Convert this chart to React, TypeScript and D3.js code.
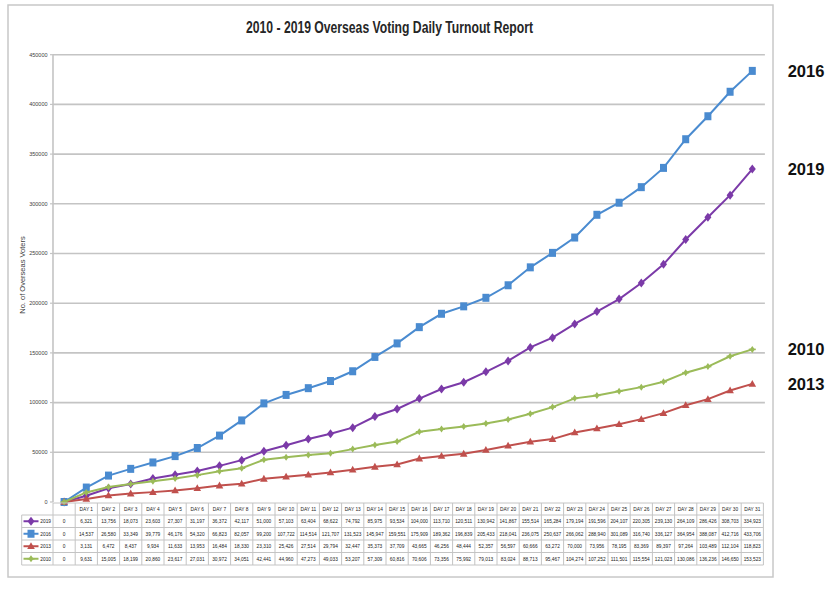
import React from "react";
import * as d3 from "d3";

const title = "2010 - 2019 Overseas Voting Daily Turnout Report";
const yAxisTitle = "No. of Overseas Voters";
const days = d3.range(0, 32);
const dayLabels = days.map((d) => (d === 0 ? "" : `DAY ${d}`));
const yTicks = [0, 50000, 100000, 150000, 200000, 250000, 300000, 350000, 400000, 450000];

const years = ["2019", "2016", "2013", "2010"];
const colors = ["#7b3aa8", "#4a8bd0", "#c0504d", "#9bbb59"];

const v2019 = [0, 6321, 13756, 18073, 23603, 27307, 31197, 36372, 42117, 51000, 57103, 63404, 68622, 74792, 85975, 93534,
  104000, 113710, 120511, 130942, 141867, 155514, 165284, 179194, 191596, 204107, 220305, 239130, 264109, 286426, 308703, 334923];
const v2016 = [0, 14537, 26580, 33349, 39779, 46176, 54320, 66823, 82057, 99200, 107722, 114514, 121707, 131523, 145947, 159551,
  175909, 189362, 196839, 205433, 218041, 236075, 250637, 266062, 288940, 301089, 316740, 336127, 364954, 388087, 412716, 433706];
const v2013 = [0, 3131, 6472, 8437, 9934, 11633, 13953, 16484, 18330, 23310, 25426, 27514, 29794, 32447, 35373, 37709,
  43665, 46256, 48444, 52357, 56597, 60666, 63272, 70000, 73956, 78195, 83369, 89397, 97264, 103489, 112104, 118823];
const v2010 = [0, 9631, 15005, 18199, 20860, 23617, 27031, 30972, 34051, 42441, 44960, 47273, 49033, 53207, 57309, 60816,
  70606, 73356, 75992, 79013, 83024, 88713, 95467, 104274, 107252, 111501, 115554, 121023, 130086, 136236, 146650, 153523];

const seriesValues = [v2019, v2016, v2013, v2010];

// right-side labels (year, value anchor)
const sideLabels = [
  { year: "2016", value: 433706 },
  { year: "2019", value: 334923 },
  { year: "2010", value: 153523 },
  { year: "2013", value: 118823 },
];

function Marker({ kind, x, y, color }: { kind: number; x: number; y: number; color: string }) {
  if (kind === 0) {
    return <path d={`M${x},${y - 4.5}L${x + 3.5},${y}L${x},${y + 4.5}L${x - 3.5},${y}Z`} fill={color} />;
  }
  if (kind === 1) {
    return <rect x={x - 3.5} y={y - 4} width={7} height={8} fill={color} />;
  }
  if (kind === 2) {
    return <path d={`M${x},${y - 4}L${x + 3.8},${y + 2.8}L${x - 3.8},${y + 2.8}Z`} fill={color} />;
  }
  return (
    <g fill={color}>
      <path d={`M${x},${y - 3.5}L${x + 2.5},${y}L${x},${y + 3.5}L${x - 2.5},${y}Z`} />
      <rect x={x - 3.5} y={y - 0.8} width={7} height={1.6} />
    </g>
  );
}

export default function App() {
  const left = 53;
  const right = 763.4;
  const top = 54.7;
  const bottom = 502;
  const x = d3.scaleBand<number>().domain(days).range([left, right]).padding(0);
  const y = d3.scaleLinear().domain([0, 450000]).range([bottom, top]);
  const cx = (d: number) => (x(d) as number) + x.bandwidth() / 2;
  const line = d3
    .line<number>()
    .x((_, i) => cx(days[i]))
    .y((v) => y(v));

  const rowTop = 503;
  const headerH = 12;
  const rowH = 12.5;
  const legendLeft = 21.7;
  const tableBottom = rowTop + headerH + rowH * 4;
  const fmt = d3.format(",");
  const gridColor = "#c4c4c4";
  const font = "'Liberation Sans', Arial, sans-serif";

  return (
    <svg width={840} height={592} style={{ position: "absolute", left: 0, top: 0, background: "#fff" }}>
      <rect x={0} y={0} width={840} height={592} fill="#fff" />
      {/* outer frame */}
      <rect x={8} y={5} width={765} height={572} fill="none" stroke="#c8c8c8" strokeWidth={1.5} />

      <text x={389.5} y={33} textAnchor="middle" fontFamily="'Liberation Sans Narrow', 'Liberation Sans', Arial, sans-serif"
        fontSize={16} fontWeight={600} fill="#262626" textLength={287} lengthAdjust="spacingAndGlyphs">
        {title}
      </text>

      {/* gridlines */}
      {yTicks.map((t) => (
        <g key={t}>
          {t > 0 && <line x1={left} x2={right + 1.5} y1={y(t)} y2={y(t)} stroke={gridColor} strokeWidth={1.6} />}
          <line x1={left - 3} x2={left} y1={y(t)} y2={y(t)} stroke={gridColor} strokeWidth={1.2} />
          <text x={47.5} y={y(t) + 1.8} textAnchor="end" fontFamily={font} fontSize={5.5} fill="#404040">
            {t}
          </text>
        </g>
      ))}
      <line x1={left} x2={left} y1={top} y2={bottom} stroke={gridColor} strokeWidth={1.6} />

      <text transform={`translate(24.5,275) rotate(-90)`} textAnchor="middle" fontFamily={font} fontSize={7.5} fill="#404040">
        {yAxisTitle}
      </text>

      {/* series */}
      {seriesValues.map((vals, si) => (
        <g key={years[si]}>
          <path d={line(vals) || ""} fill="none" stroke={colors[si]} strokeWidth={2} />
          {vals.map((v, i) => (
            <Marker key={i} kind={si} x={cx(days[i])} y={y(v)} color={colors[si]} />
          ))}
        </g>
      ))}

      {/* data table */}
      <g fontFamily={font} fill="#222">
        {/* horizontal lines */}
        <line x1={left} x2={right} y1={rowTop} y2={rowTop} stroke={gridColor} strokeWidth={1} />
        {[0, 1, 2, 3, 4].map((r) => (
          <line key={r} x1={legendLeft} x2={right} y1={rowTop + headerH + r * rowH} y2={rowTop + headerH + r * rowH}
            stroke={gridColor} strokeWidth={1} />
        ))}
        {/* vertical lines */}
        <line x1={legendLeft} x2={legendLeft} y1={rowTop + headerH} y2={tableBottom} stroke={gridColor} strokeWidth={1} />
        {days.map((d) => (
          <line key={d} x1={x(d) as number} x2={x(d) as number} y1={rowTop} y2={tableBottom} stroke={gridColor} strokeWidth={1} />
        ))}
        <line x1={right} x2={right} y1={rowTop} y2={tableBottom} stroke={gridColor} strokeWidth={1} />

        {days.map((d) => (
          <text key={d} x={cx(d)} y={rowTop + headerH / 2 + 1.8} textAnchor="middle" fontSize={4.8}>
            {dayLabels[d]}
          </text>
        ))}
        {seriesValues.map((vals, si) => {
          const ry = rowTop + headerH + si * rowH + rowH / 2;
          return (
            <g key={si}>
              <line x1={23.5} x2={38.5} y1={ry} y2={ry} stroke={colors[si]} strokeWidth={2} />
              <Marker kind={si} x={31} y={ry} color={colors[si]} />
              <text x={51} y={ry + 1.8} textAnchor="end" fontSize={4.8}>
                {years[si]}
              </text>
              {vals.map((v, i) => (
                <text key={i} x={cx(days[i])} y={ry + 1.8} textAnchor="middle" fontSize={4.8}>
                  {fmt(v)}
                </text>
              ))}
            </g>
          );
        })}
      </g>

      {/* side labels */}
      {sideLabels.map((s) => (
        <text key={s.year} x={806} y={y(s.value) + 6} textAnchor="middle" fontFamily="'Liberation Sans', Arial, sans-serif"
          fontSize={16.5} fontWeight="bold" fill="#111">
          {s.year}
        </text>
      ))}
    </svg>
  );
}
